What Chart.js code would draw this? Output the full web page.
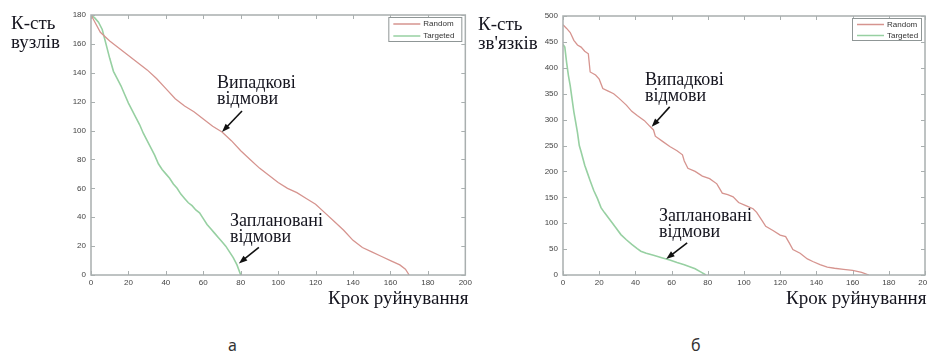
<!DOCTYPE html>
<html>
<head>
<meta charset="utf-8">
<script src="https://cdn.jsdelivr.net/npm/chart.js@4/dist/chart.umd.min.js"></script>
<style>
  html, body { margin: 0; padding: 0; background: #fff; overflow: hidden; }
  body { width: 927px; height: 358px; position: relative; }
  .panel { position: absolute; top: 0; }
  .txt {
    position: absolute;
    font-family: 'Liberation Serif', 'Times New Roman', serif;
    color: #15151f;
    white-space: nowrap;
  }
  .t19 { font-size: 19px; line-height: 19px; }
  .t18 { font-size: 18px; line-height: 18px; }
  .cap {
    position: absolute;
    font-family: 'Noto Sans', 'DejaVu Sans', sans-serif;
    font-size: 16px;
    line-height: 16px;
    color: #333;
  }
</style>
</head>
<body>
<div class="panel" style="left:0;width:475px;height:300px"><canvas id="nodes" width="475" height="300"></canvas></div>
<div class="panel" style="left:470px;width:470px;height:300px"><canvas id="links" width="470" height="300"></canvas></div>

<div class="txt t19" style="left:11px;top:13px">К-сть</div>
<div class="txt t19" style="left:11px;top:32px">вузлів</div>
<div class="txt t19" style="left:328px;top:288px">Крок руйнування</div>
<div class="txt t18" style="left:217px;top:73px">Випадкові</div>
<div class="txt t18" style="left:217px;top:89px">відмови</div>
<div class="txt t18" style="left:230px;top:211px">Заплановані</div>
<div class="txt t18" style="left:230px;top:227px">відмови</div>

<div class="txt t19" style="left:478px;top:14px">К-сть</div>
<div class="txt t19" style="left:478px;top:33px">зв'язків</div>
<div class="txt t19" style="left:786px;top:288px">Крок руйнування</div>
<div class="txt t18" style="left:645px;top:70px">Випадкові</div>
<div class="txt t18" style="left:645px;top:86px">відмови</div>
<div class="txt t18" style="left:659px;top:206px">Заплановані</div>
<div class="txt t18" style="left:659px;top:222px">відмови</div>

<div class="cap" style="left:228px;top:337px">а</div>
<div class="cap" style="left:691px;top:337px">б</div>

<script>
// (a) number of nodes vs destruction step
const nodesRandomStep = [0, 5, 10, 15, 20, 25, 30, 35, 40, 45, 50, 55, 60, 65, 70, 75, 80, 85, 90, 95,
  100, 105, 110, 115, 120, 125, 130, 135, 140, 145, 150, 155, 160, 165, 168, 170];
const nodesRandom = [180, 168, 162, 157, 152, 147, 142, 136, 129, 122, 117, 113, 108, 103, 99, 93, 86, 80, 74, 69,
  64, 60, 57, 53, 49, 43, 37, 31, 24, 19, 16, 13, 10, 7, 4, 0];
const nodesTargetedStep = [0, 2, 4, 6, 8, 10, 12, 14, 16, 18, 20, 22, 24, 26, 28, 30, 32, 34, 36, 38,
  40, 42, 44, 46, 48, 50, 52, 54, 56, 58, 60, 62, 64, 66, 68, 70, 72, 74, 76, 78, 80];
const nodesTargeted = [180, 178, 175, 170, 160, 150, 141, 136, 131, 125, 119, 114, 109, 104, 98, 93, 88, 83, 77, 73,
  70, 67, 63, 60, 56, 53, 50, 48, 45, 43, 39, 35, 32, 29, 26, 23, 20, 16, 12, 7, 0];

// (б) number of links vs destruction step
const linksRandomStep = [0, 2, 4, 6, 8, 10, 12, 14, 15, 18, 20, 22, 25, 28, 31, 35, 38, 41, 45, 48,
  50, 51, 55, 59, 63, 66, 67, 69, 73, 77, 81, 85, 88, 91, 94, 97, 101, 105, 107, 110,
  112, 116, 120, 123, 125, 127, 131, 135, 138, 142, 146, 150, 155, 160, 165, 169];
const linksRandom = [483, 476, 468, 453, 444, 440, 432, 427, 392, 386, 378, 360, 355, 350, 341, 328, 316, 308, 298, 287,
  280, 268, 258, 248, 240, 232, 220, 206, 200, 191, 186, 176, 158, 155, 151, 140, 134, 128, 121, 105,
  94, 86, 77, 74, 62, 49, 42, 31, 26, 20, 15, 13, 11, 9, 5, 0];
const linksTargetedStep = [0, 1, 2, 3, 4, 5, 6, 7, 8, 9, 10, 11, 12, 13, 15, 17, 19, 21, 23, 26,
  29, 32, 35, 38, 41, 43, 46, 50, 55, 59, 63, 67, 70, 73, 76, 79];
const linksTargeted = [445, 440, 410, 385, 365, 340, 315, 295, 275, 250, 238, 225, 212, 202, 182, 163, 148, 130, 120, 106,
  92, 78, 68, 59, 51, 46, 42, 38, 33, 29, 24, 20, 16, 12, 6, 0];

const xTicks = { min: 0, max: 200, step: 20 };
const seriesNames = ['Random', 'Targeted'];

const RANDOM_COLOR = '#d6948f';
const TARGET_COLOR = '#97d0a2';
const AXIS_COLOR = '#a9afaf';
const TICK_FONT = { family: '"Liberation Sans", Arial, sans-serif', size: 8 };

function toPoints(xs, ys) {
    return xs.map((x, i) => ({ x: x, y: ys[i] }));
}

function drawArrow(ctx, tx, ty, fx, fy) {
    const ang = Math.atan2(ty - fy, tx - fx);
    const head = 9;
    ctx.beginPath();
    ctx.moveTo(fx, fy);
    ctx.lineTo(tx - Math.cos(ang) * head * 0.8, ty - Math.sin(ang) * head * 0.8);
    ctx.stroke();
    ctx.beginPath();
    ctx.moveTo(tx, ty);
    ctx.lineTo(tx - head * Math.cos(ang - 0.35), ty - head * Math.sin(ang - 0.35));
    ctx.lineTo(tx - head * Math.cos(ang + 0.35), ty - head * Math.sin(ang + 0.35));
    ctx.closePath();
    ctx.fill();
}

const framePlugin = {
    id: 'frame',
    afterDatasetsDraw(chart, args, opts) {
        const { ctx, chartArea: a } = chart;
        const xs = chart.scales.x;
        const ys = chart.scales.y;
        ctx.save();

        // box
        ctx.strokeStyle = AXIS_COLOR;
        ctx.lineWidth = 1.5;
        ctx.strokeRect(a.left, a.top, a.right - a.left, a.bottom - a.top);

        // inward ticks on all four sides
        ctx.lineWidth = 1;
        ctx.beginPath();
        xs.ticks.forEach(t => {
            const px = Math.round(xs.getPixelForValue(t.value)) + 0.5;
            ctx.moveTo(px, a.bottom); ctx.lineTo(px, a.bottom - 4);
            ctx.moveTo(px, a.top); ctx.lineTo(px, a.top + 4);
        });
        ys.ticks.forEach(t => {
            const py = Math.round(ys.getPixelForValue(t.value)) + 0.5;
            ctx.moveTo(a.left, py); ctx.lineTo(a.left + 4, py);
            ctx.moveTo(a.right, py); ctx.lineTo(a.right - 4, py);
        });
        ctx.stroke();

        // legend box in the top right corner
        const lw = opts.legendWidth, lh = opts.legendHeight;
        const lx = a.right - 4 - lw, ly = a.top + 2;
        ctx.fillStyle = '#fff';
        ctx.fillRect(lx, ly, lw, lh);
        ctx.strokeStyle = '#8f9696';
        ctx.lineWidth = 1;
        ctx.strokeRect(lx + 0.5, ly + 0.5, lw, lh);
        ctx.font = '8px "Liberation Sans", Arial, sans-serif';
        ctx.textBaseline = 'middle';
        chart.data.datasets.forEach((ds, i) => {
            const rowY = ly + lh * (i + 0.5) / 2 + 1;
            ctx.strokeStyle = ds.borderColor;
            ctx.lineWidth = 1.5;
            ctx.beginPath();
            ctx.moveTo(lx + 5, rowY);
            ctx.lineTo(lx + 32, rowY);
            ctx.stroke();
            ctx.fillStyle = '#333';
            ctx.fillText(ds.label, lx + 35, rowY);
        });

        // annotation arrows pointing at the curves
        ctx.strokeStyle = '#111';
        ctx.fillStyle = '#111';
        ctx.lineWidth = 1.6;
        (opts.arrows || []).forEach(ar => {
            const tx = xs.getPixelForValue(ar.at[0]);
            const ty = ys.getPixelForValue(ar.at[1]);
            drawArrow(ctx, tx, ty, tx + ar.dx, ty + ar.dy);
        });
        ctx.restore();
    }
};

function makeChart(id, randomSteps, randomVals, targetSteps, targetVals, yMax, yStep, pad, frame) {
    const ctx = document.getElementById(id).getContext('2d');
    return new Chart(ctx, {
        type: 'line',
        data: {
            datasets: [{
                label: seriesNames[0],
                data: toPoints(randomSteps, randomVals),
                borderColor: RANDOM_COLOR,
                borderWidth: 1.3,
                pointRadius: 0,
                tension: 0
            }, {
                label: seriesNames[1],
                data: toPoints(targetSteps, targetVals),
                borderColor: TARGET_COLOR,
                borderWidth: 1.6,
                pointRadius: 0,
                tension: 0
            }]
        },
        options: {
            responsive: false,
            animation: false,
            layout: { padding: pad },
            plugins: {
                legend: { display: false },
                tooltip: { enabled: false },
                frame: frame
            },
            scales: {
                x: {
                    type: 'linear',
                    min: xTicks.min,
                    max: xTicks.max,
                    grid: { display: false, drawTicks: false },
                    border: { display: false },
                    ticks: {
                        stepSize: xTicks.step,
                        padding: 3,
                        maxRotation: 0,
                        color: '#444',
                        font: TICK_FONT
                    },
                    afterFit: s => { s.height = 25; }
                },
                y: {
                    min: 0,
                    max: yMax,
                    grid: { display: false, drawTicks: false },
                    border: { display: false },
                    ticks: {
                        stepSize: yStep,
                        padding: 5,
                        color: '#444',
                        font: TICK_FONT
                    },
                    afterFit: s => { s.width = 30; }
                }
            }
        },
        plugins: [framePlugin]
    });
}

makeChart('nodes', nodesRandomStep, nodesRandom, nodesTargetedStep, nodesTargeted, 180, 20,
    { left: 61, top: 15, right: 6, bottom: 0 },
    { legendWidth: 73, legendHeight: 24,
      arrows: [{ at: [70, 99], dx: 20, dy: -21 }, { at: [79, 8], dx: 20, dy: -16 }] });

makeChart('links', linksRandomStep, linksRandom, linksTargetedStep, linksTargeted, 500, 50,
    { left: 63, top: 16, right: 15, bottom: 0 },
    { legendWidth: 69, legendHeight: 22,
      arrows: [{ at: [49, 286], dx: 18, dy: -20 }, { at: [57, 31], dx: 21, dy: -16 }] });
</script>
</body>
</html>
